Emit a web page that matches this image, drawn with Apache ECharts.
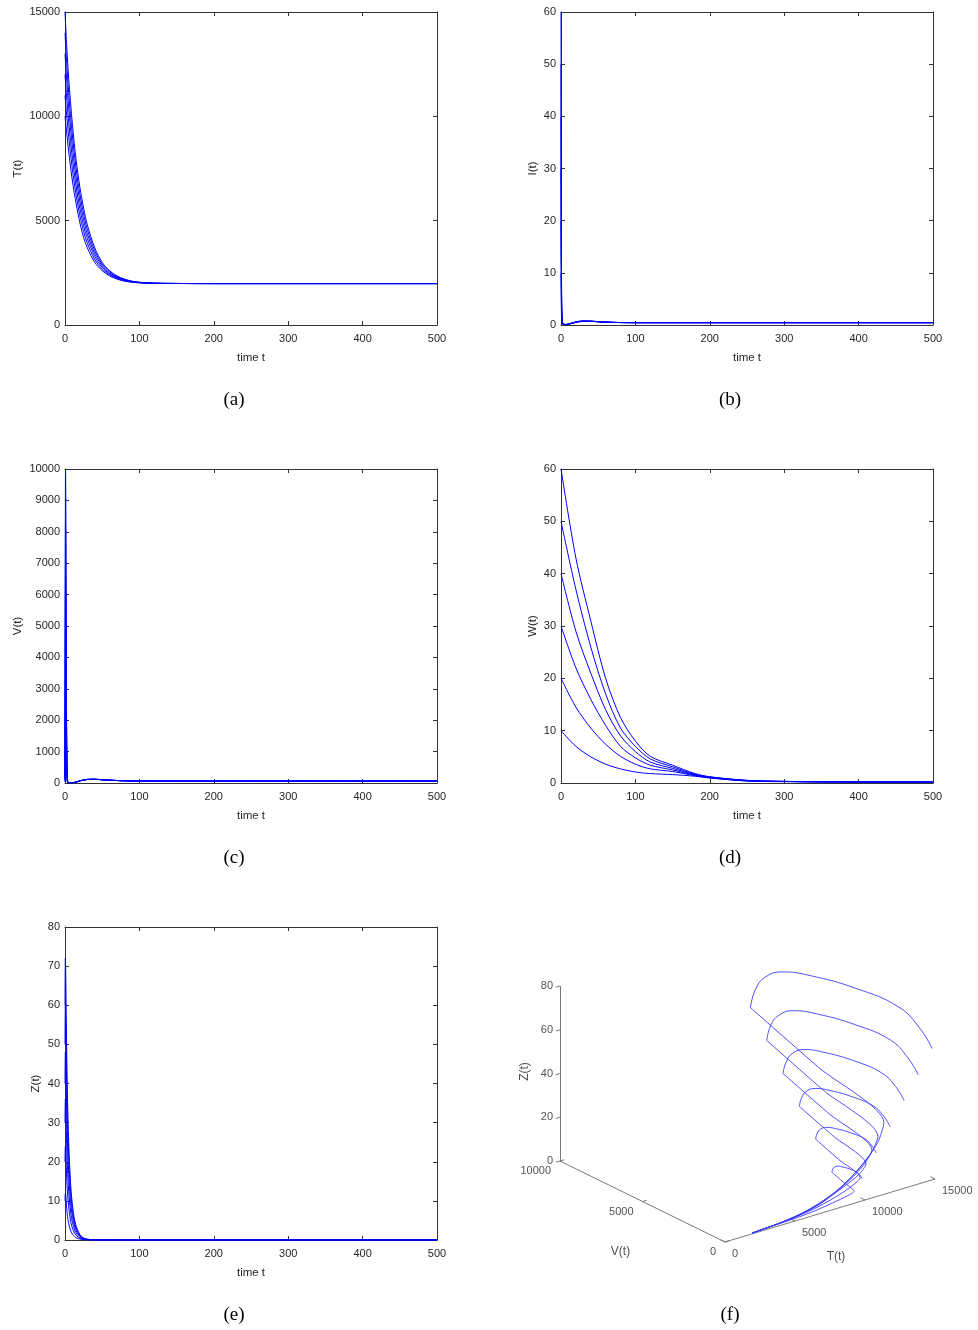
<!DOCTYPE html>
<html><head><meta charset="utf-8">
<script src="https://cdn.jsdelivr.net/npm/echarts/dist/echarts.min.js"></script>
<style>html,body{margin:0;padding:0;background:#fff}#c{width:978px;height:1330px}</style>
</head><body><div id="c"></div>
<script>
// ---------- (a) T(t) ----------
const tA = [0,2,5,10,15,20,25,30,40,50,60,70,80,90,100,120,150,200,300,400,500];
const T1 = [15000,13600,11800,9600,7900,6600,5600,4800,3700,3000,2600,2350,2200,2100,2050,2000,1990,1985,1985,1985,1985];
const T2 = [14000,12740,11100,9060,7480,6260,5320,4580,3560,2920,2550,2320,2180,2090,2044,2000,1990,1985,1985,1985,1985];
const T3 = [13000,11880,10400,8520,7060,5920,5040,4360,3420,2840,2500,2290,2160,2080,2038,2000,1990,1985,1985,1985,1985];
const T4 = [12000,11020,9700,7980,6640,5580,4760,4140,3280,2760,2450,2260,2140,2070,2032,2000,1990,1985,1985,1985,1985];
const T5 = [11000,10160,9000,7440,6220,5240,4480,3920,3140,2680,2400,2230,2120,2060,2026,2000,1990,1985,1985,1985,1985];
const T6 = [10000,9300,8300,6900,5800,4900,4200,3700,3000,2600,2350,2200,2100,2050,2020,2000,1990,1985,1985,1985,1985];
// ---------- (b) I(t) ----------
const tB = [0,0.5,1,2,4,7,10,15,20,25,30,40,50,60,70,80,100,150,200,300,400,500];
const I1 = [60,18,4,0.6,0.15,0.12,0.2,0.4,0.6,0.72,0.76,0.74,0.65,0.55,0.5,0.47,0.45,0.45,0.45,0.45,0.45,0.45];
const I2 = [50,15,3.4,0.5,0.13,0.11,0.19,0.39,0.59,0.71,0.75,0.73,0.64,0.55,0.5,0.47,0.45,0.45,0.45,0.45,0.45,0.45];
const I3 = [40,12,2.7,0.4,0.1,0.1,0.18,0.37,0.57,0.69,0.74,0.72,0.64,0.55,0.5,0.47,0.45,0.45,0.45,0.45,0.45,0.45];
const I4 = [30,9,2,0.3,0.08,0.09,0.17,0.35,0.55,0.67,0.72,0.71,0.63,0.55,0.5,0.47,0.45,0.45,0.45,0.45,0.45,0.45];
const I5 = [20,6,1.4,0.2,0.06,0.08,0.16,0.33,0.52,0.65,0.7,0.7,0.62,0.54,0.5,0.47,0.45,0.45,0.45,0.45,0.45,0.45];
const I6 = [10,3,0.7,0.1,0.04,0.07,0.15,0.3,0.5,0.62,0.68,0.69,0.62,0.54,0.5,0.47,0.45,0.45,0.45,0.45,0.45,0.45];
// ---------- (c) V(t) ----------
const tC = [0,0.3,0.7,1,1.5,2,3,4,6,10,15,20,30,40,50,60,80,100,150,200,300,400,500];
const V1 = [200,6000,10000,9500,6000,2500,300,20,5,10,30,70,115,120,105,90,70,62,60,60,60,60,60];
const V2 = [170,5000,8330,7900,5000,2080,250,17,5,10,30,70,114,119,105,90,70,62,60,60,60,60,60];
const V3 = [130,4000,6670,6330,4000,1670,200,14,5,10,30,69,113,118,104,90,70,62,60,60,60,60,60];
const V4 = [100,3000,5000,4750,3000,1250,150,10,5,10,29,68,112,117,104,89,70,62,60,60,60,60,60];
const V5 = [70,2000,3330,3170,2000,830,100,7,5,10,29,67,111,116,103,89,70,62,60,60,60,60,60];
const V6 = [30,1000,1670,1580,1000,420,50,4,5,10,28,66,110,115,103,89,70,62,60,60,60,60,60];
// ---------- (d) W(t) ----------
const tD = [0,20,40,60,80,100,120,150,180,200,250,300,400,500];
const W1 = [60,43,31,20,12.5,8,5.1,3.4,1.8,1.2,0.5,0.3,0.2,0.2];
const W2 = [50,37,26,17,10.5,7,4.6,3.1,1.7,1.15,0.5,0.3,0.2,0.2];
const W3 = [40,29,21,14,9,6,4.0,2.8,1.6,1.1,0.45,0.3,0.2,0.2];
const W4 = [30,22,16,11,7,4.8,3.4,2.5,1.5,1.05,0.45,0.3,0.2,0.2];
const W5 = [20,14.5,10.5,7.4,5.1,3.6,2.7,2.2,1.4,1.0,0.4,0.3,0.2,0.2];
const W6 = [10,7,5,3.6,2.7,2.1,1.8,1.6,1.3,0.95,0.38,0.25,0.2,0.2];
// ---------- (e) Z(t) ----------
const tE = [0,0.5,1,2,3,4,5,6,8,10,13,16,20,25,30,40,60,100,200,300,400,500];
const Z1 = [60,72,68,52,40,31,25,20,13,9,5,3,1.4,0.5,0.2,0.05,0.01,0,0,0,0,0];
const Z2 = [50,60,57,43,33,26,21,17,11,7.5,4.2,2.5,1.2,0.45,0.18,0.04,0.01,0,0,0,0,0];
const Z3 = [40,48,45,35,27,21,17,13.5,8.8,6,3.4,2,1,0.35,0.15,0.03,0.01,0,0,0,0,0];
const Z4 = [30,36,34,26,20,15.5,12.5,10,6.5,4.5,2.5,1.5,0.7,0.25,0.1,0.02,0,0,0,0,0,0];
const Z5 = [20,24,23,17,13,10.5,8.5,6.8,4.4,3,1.7,1,0.5,0.17,0.07,0.02,0,0,0,0,0,0];
const Z6 = [10,12,11.5,8.7,6.7,5.2,4.2,3.4,2.2,1.5,0.85,0.5,0.25,0.08,0.03,0.01,0,0,0,0,0,0];
// ---------- (f) trajectories [T, V, Z]; index 8 is the virus peak ----------
const P1 = [[14800,0,60],[14750,740,67],[14700,1950,72],[14500,4300,72],[14200,6900,69],[14000,8400,65.5],[13800,9300,60],[13700,9800,52.5],[13600,10000,44],[12600,5000,37],[11700,300,31],[11000,80,24],[10000,60,17],[8500,70,9],[7000,90,4],[5500,110,1.5],[4000,110,0.4],[3000,90,0.1],[2300,70,0],[2000,60,0]];
const P2 = [[13800,0,50],[13760,620,55.8],[13720,1620,60],[13550,3580,60],[13300,5750,57.5],[13130,7000,54.6],[12970,7750,50],[12880,8170,43.8],[12800,8330,36.7],[11970,4170,30.8],[11220,250,25.8],[10500,70,20],[9500,60,14],[8000,70,7.5],[6500,90,3.3],[5000,110,1.2],[3800,110,0.3],[2800,90,0.1],[2200,70,0],[2000,60,0]];
const P3 = [[12800,0,40],[12770,490,44.7],[12730,1300,48],[12600,2870,48],[12400,4600,46],[12270,5600,43.7],[12130,6200,40],[12070,6530,35],[12000,6670,29.3],[11330,3330,24.7],[10730,200,20.7],[10000,60,16],[9000,60,11],[7500,70,6],[6000,90,2.7],[4700,110,1],[3600,110,0.3],[2700,90,0.1],[2200,70,0],[2000,60,0]];
const P4 = [[11800,0,30],[11775,370,33.5],[11750,975,36],[11650,2150,36],[11500,3450,34.5],[11400,4200,32.75],[11300,4650,30],[11250,4900,26.25],[11200,5000,22],[10700,2500,18.5],[10250,150,15.5],[9600,60,12],[8500,60,8.5],[7000,70,4.5],[5700,90,2],[4500,110,0.8],[3500,110,0.2],[2600,90,0.05],[2100,70,0],[2000,60,0]];
const P5 = [[10800,0,20],[10785,250,22.3],[10770,650,24],[10700,1430,24],[10600,2300,23],[10530,2800,21.8],[10470,3100,20],[10430,3270,17.5],[10400,3330,14.7],[10070,1670,12.3],[9770,100,10.3],[9200,60,8],[8200,60,5.5],[6800,70,3],[5500,90,1.4],[4300,110,0.5],[3300,110,0.15],[2500,90,0],[2100,70,0],[2000,60,0]];
const P6 = [[9800,0,10],[9790,120,11.2],[9780,330,12],[9750,720,12],[9700,1150,11.5],[9670,1400,10.9],[9630,1550,10],[9620,1630,8.75],[9600,1670,7.3],[9430,830,6.2],[9280,50,5.2],[8800,50,4],[7800,60,2.8],[6500,70,1.5],[5300,90,0.7],[4100,110,0.3],[3200,110,0.1],[2500,90,0],[2100,70,0],[2000,60,0]];
const fTticks = [0,5000,10000,15000];
const fVticks = [0,5000,10000];
const fZticks = [0,20,40,60,80];

// ---------------------------------------------------------
const chart = echarts.init(document.getElementById('c'), null, {renderer:'canvas'});
const AX = '#333333', TXT = '#262626', BLUE = '#0000ff';
const FONT = '"Liberation Sans", Arial, Helvetica, sans-serif';
const plain = v => String(v);

const grids = [
  {left:65, top:12, width:372, height:313},
  {left:561, top:12, width:372, height:313},
  {left:65, top:469, width:372, height:314},
  {left:561, top:469, width:372, height:314},
  {left:65, top:927, width:372, height:313},
  {left:490, top:950, width:488, height:330}
];
const panels = [
  {t:tA, ys:[T1,T2,T3,T4,T5,T6], ymax:15000, yint:5000, name:'T(t)', gap:41},
  {t:tB, ys:[I1,I2,I3,I4,I5,I6], ymax:60, yint:10, name:'I(t)', gap:22},
  {t:tC, ys:[V1,V2,V3,V4,V5,V6], ymax:10000, yint:1000, name:'V(t)', gap:41},
  {t:tD, ys:[W1,W2,W3,W4,W5,W6], ymax:60, yint:10, name:'W(t)', gap:22},
  {t:tE, ys:[Z1,Z2,Z3,Z4,Z5,Z6], ymax:80, yint:10, name:'Z(t)', gap:23}
];
const xAxis = [], yAxis = [], series = [];
const lineAx = {show:true, onZero:false, lineStyle:{color:AX, width:1}};
const tickIn = {show:true, inside:true, length:4, lineStyle:{color:AX, width:1}};
panels.forEach((p, i) => {
  xAxis.push({gridIndex:i, type:'value', min:0, max:500, interval:100, position:'bottom',
    axisLine:lineAx, axisTick:tickIn, splitLine:{show:false},
    axisLabel:{color:TXT, fontSize:11, fontFamily:FONT, margin:8, formatter:plain},
    name:'time t', nameLocation:'middle', nameGap:27,
    nameTextStyle:{color:TXT, fontSize:11.5, fontFamily:FONT}});
  xAxis.push({gridIndex:i, type:'value', min:0, max:500, interval:100, position:'top',
    axisLine:lineAx, axisTick:tickIn, splitLine:{show:false}, axisLabel:{show:false}});
  yAxis.push({gridIndex:i, type:'value', min:0, max:p.ymax, interval:p.yint, position:'left',
    axisLine:lineAx, axisTick:tickIn, splitLine:{show:false},
    axisLabel:{color:TXT, fontSize:11, fontFamily:FONT, margin:5, formatter:plain},
    name:p.name, nameLocation:'middle', nameGap:p.gap, nameRotate:90,
    nameTextStyle:{color:TXT, fontSize:11.5, fontFamily:FONT}});
  yAxis.push({gridIndex:i, type:'value', min:0, max:p.ymax, interval:p.yint, position:'right',
    axisLine:lineAx, axisTick:tickIn, splitLine:{show:false}, axisLabel:{show:false}});
  p.ys.forEach(ys => {
    series.push({type:'line', xAxisIndex:2*i, yAxisIndex:2*i, showSymbol:false, symbol:'none',
      smooth:0.3, silent:true, animation:false,
      lineStyle:{color:BLUE, width:1},
      data: p.t.map((t, k) => [t, ys[k]])});
  });
});

// ---------- panel (f): orthographic projection of (T, V, Z) ----------
const proj = (T, V, Z) => [235 + 0.014*T - 0.0165*V, 292 - 0.0042*T - 0.0081*V - 2.1875*Z];
xAxis.push({gridIndex:5, type:'value', min:0, max:488, show:false});
yAxis.push({gridIndex:5, type:'value', min:0, max:330, inverse:true, show:false});
const FX = 10, FY = 10;
const segs = [
  {coords:[proj(0,0,0), proj(15000,0,0)]},
  {coords:[proj(0,0,0), proj(0,10000,0)]},
  {coords:[proj(0,10000,0), proj(0,10000,80)]}
];
fTticks.forEach(v => segs.push({coords:[proj(v,0,0), proj(v,280,0)]}));
fVticks.forEach(v => segs.push({coords:[proj(0,v,0), proj(300,v,0)]}));
fZticks.forEach(v => segs.push({coords:[proj(0,10000,v), proj(-300,10000,v)]}));
series.push({type:'lines', coordinateSystem:'cartesian2d', xAxisIndex:FX, yAxisIndex:FY, silent:true,
  animation:false, lineStyle:{color:'#6a6a6a', width:0.9, opacity:1}, data:segs});
const traj = {type:'line', xAxisIndex:FX, yAxisIndex:FY, showSymbol:false, symbol:'none',
  silent:true, animation:false, lineStyle:{color:'#3c3cff', width:0.9}};
[P1,P2,P3,P4,P5,P6].forEach(P => {
  const pts = P.map(q => proj(q[0], q[1], q[2]));
  series.push({...traj, smooth:0.45, data: pts.slice(0, 9)});   // rise of V: curved arc
  series.push({...traj, smooth:0.25, data: pts.slice(8)});      // fall of V and decay
});
const lblStyle = {color:TXT, fontSize:11, fontFamily:FONT};
series.push({type:'scatter', xAxisIndex:FX, yAxisIndex:FY, symbolSize:0, silent:true, animation:false,
  label:{show:true, position:'left', distance:7, formatter:d => d.value[2], ...lblStyle},
  data: fZticks.map(v => [...proj(0,10000,v), String(v)])});
series.push({type:'scatter', xAxisIndex:FX, yAxisIndex:FY, symbolSize:0, silent:true, animation:false,
  label:{show:true, position:'inside', align:'right', verticalAlign:'middle', offset:[-9,10], formatter:d => d.value[2], ...lblStyle},
  data: fVticks.map(v => [...proj(0,v,0), String(v)])});
series.push({type:'scatter', xAxisIndex:FX, yAxisIndex:FY, symbolSize:0, silent:true, animation:false,
  label:{show:true, position:'inside', align:'left', verticalAlign:'middle', offset:[7,12], formatter:d => d.value[2], ...lblStyle},
  data: fTticks.map(v => [...proj(v,0,0), String(v)])});
series.push({type:'scatter', xAxisIndex:FX, yAxisIndex:FY, symbolSize:0, silent:true, animation:false,
  label:{show:true, position:'inside', align:'center', verticalAlign:'middle', formatter:d => d.value[2], color:TXT, fontSize:12, fontFamily:FONT},
  data: [{value:[...proj(0,5000,0), 'V(t)'], label:{offset:[-22,50]}},
         {value:[...proj(7500,0,0), 'T(t)'], label:{offset:[6,46]}}]});
series.push({type:'scatter', xAxisIndex:FX, yAxisIndex:FY, symbolSize:0, silent:true, animation:false,
  label:{show:true, position:'inside', align:'center', verticalAlign:'middle', rotate:90, offset:[2,-35], formatter:d => d.value[2], color:TXT, fontSize:12, fontFamily:FONT},
  data: [[...proj(0,10000,40), 'Z(t)']]});

const captions = [['(a)',234,400],['(b)',730,400],['(c)',234,858],['(d)',730,858],['(e)',234,1315],['(f)',730,1315]];
chart.setOption({
  animation:false,
  backgroundColor:'#ffffff',
  grid: grids.map(g => ({...g, containLabel:false})),
  xAxis, yAxis, series,
  graphic: captions.map(c => ({type:'text', x:c[1], y:c[2], style:{text:c[0], fill:'#000',
    font:'19px "Liberation Serif", "Times New Roman", serif', textAlign:'center', textVerticalAlign:'middle'}}))
});
</script></body></html>
